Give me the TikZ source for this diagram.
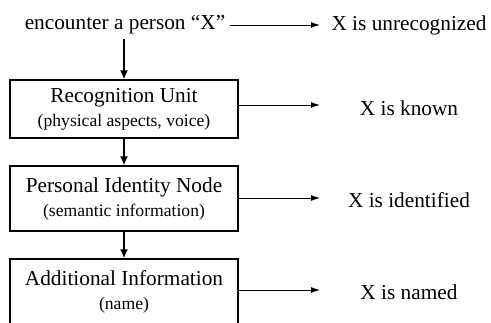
\documentclass[tikz,border=0pt]{standalone}
\usepackage{fontspec}
\setmainfont{Liberation Serif}
\usepackage{tikz}
\usetikzlibrary{shapes,arrows.meta,positioning}
\tikzstyle{block} = [rectangle, draw, line width=1.2pt, minimum width=228pt, minimum height=62pt,
    align=center, inner sep=0pt, font=\fontsize{21.3}{22}\selectfont]
\tikzstyle{outcome} = [inner sep=0pt, font=\fontsize{21.3}{24}\selectfont]
\tikzstyle{line} = [draw, line width=1pt, -{Latex[length=9pt,width=6pt]}]
\tikzstyle{down} = [draw, line width=1.7pt, -{Latex[length=9pt,width=8pt]}]
\newcommand{\sub}[1]{{\fontsize{17.6}{20}\selectfont #1}}

\begin{document}
\begin{tikzpicture}[x=1pt, y=-1pt]
    \useasboundingbox (0,0) rectangle (491,322);
    % Place nodes
    \node [outcome] (start) at (125,25) {encounter a person “X”};
    \node [block, minimum height=58pt] (unit) at (124,109) {Recognition Unit\\[2pt]\sub{(physical aspects, voice)}};
    \node [block, minimum height=65pt] (pin) at (124,198.5) {Personal Identity Node\\[2pt]\sub{(semantic information)}};
    \node [block, minimum height=65pt] (info) at (124,291.5) {Additional Information\\[2pt]\sub{(name)}};
    \node [outcome] (unknown) at (409,25) {X is unrecognized};
    \node [outcome] (known) at (409,108) {X is known};
    \node [outcome] (identified) at (409,200) {X is identified};
    \node [outcome] (named) at (409,292) {X is named};

    % Draw edges
    \path [line] (start.east) ++(5,0) -- (unknown.west -| 320,0);
    \path [line] (unit.east |- 0,105) -- (320,105);
    \path [line] (pin.east |- 0,198) -- (320,198);
    \path [line] (info.east |- 0,290) -- (320,290);
    \path [down] (start.south -| unit.north) ++(0,4) -- (unit.north);
    \path [down] (unit) -- (pin);
    \path [down] (pin) -- (info);

\end{tikzpicture}
\end{document}
